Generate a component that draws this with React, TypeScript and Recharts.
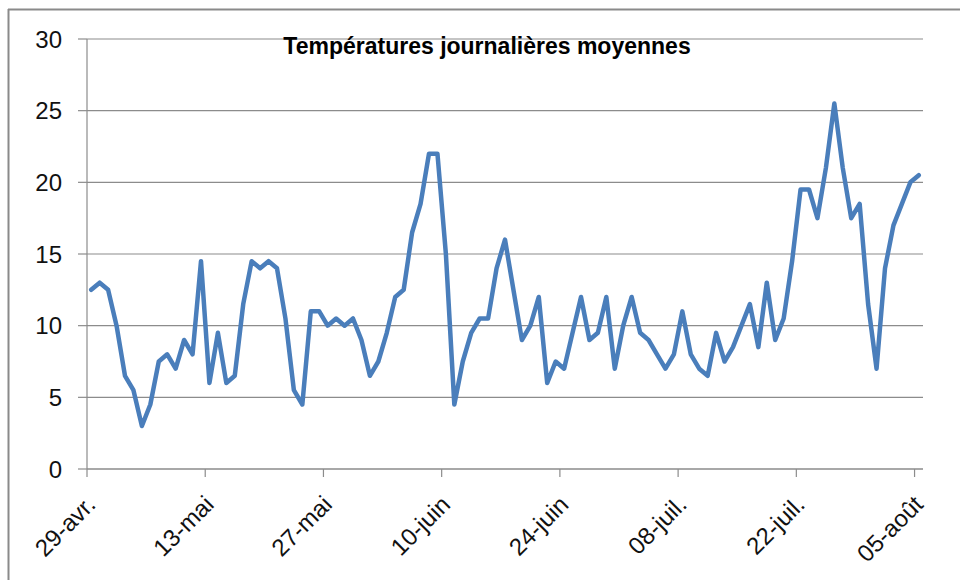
import React from "react";
import { LineChart, Line, XAxis, YAxis, CartesianGrid } from "recharts";

// Daily mean temperatures, 29 April -> 5 August (99 days)
const temperatures: number[] = [
  12.5, 13.0, 12.5, 10.0, 6.5, 5.5, 3.0, 4.5, 7.5, 8.0,
  7.0, 9.0, 8.0, 14.5, 6.0, 9.5, 6.0, 6.5, 11.5, 14.5,
  14.0, 14.5, 14.0, 10.5, 5.5, 4.5, 11.0, 11.0, 10.0, 10.5,
  10.0, 10.5, 9.0, 6.5, 7.5, 9.5, 12.0, 12.5, 16.5, 18.5,
  22.0, 22.0, 15.0, 4.5, 7.5, 9.5, 10.5, 10.5, 14.0, 16.0,
  12.5, 9.0, 10.0, 12.0, 6.0, 7.5, 7.0, 9.5, 12.0, 9.0,
  9.5, 12.0, 7.0, 10.0, 12.0, 9.5, 9.0, 8.0, 7.0, 8.0,
  11.0, 8.0, 7.0, 6.5, 9.5, 7.5, 8.5, 10.0, 11.5, 8.5,
  13.0, 9.0, 10.5, 14.5, 19.5, 19.5, 17.5, 21.0, 25.5, 21.0,
  17.5, 18.5, 11.5, 7.0, 14.0, 17.0, 18.5, 20.0, 20.5,
];

const tickDays: number[] = [0, 14, 28, 42, 56, 70, 84, 98];
const tickLabels: string[] = [
  "29-avr.", "13-mai", "27-mai", "10-juin", "24-juin", "08-juil.", "22-juil.", "05-août",
];
const yTicks: number[] = [0, 5, 10, 15, 20, 25, 30];
const title = "Températures journalières moyennes";

const data = temperatures.map((t, i) => ({ day: i + 0.5, t }));

const FONT = "'Liberation Sans', Arial, sans-serif";

const XTick = (props: any) => {
  const { x, y, payload } = props;
  const idx = tickDays.indexOf(payload.value);
  const label = idx >= 0 ? tickLabels[idx] : "";
  return (
    <text
      transform={`translate(${x + 10},${y + 29}) rotate(-45)`}
      textAnchor="end"
      fontFamily={FONT}
      fontSize={24}
      fill="#111"
    >
      {label}
    </text>
  );
};

export default function App() {
  return (
    <div
      style={{
        position: "absolute",
        left: 0,
        top: 0,
        width: 960,
        height: 580,
        overflow: "hidden",
        background: "#fff",
      }}
    >
      <LineChart
        width={960}
        height={580}
        data={data}
        margin={{ top: 39, right: 37, bottom: 11, left: 0 }}
      >
        <CartesianGrid vertical={false} stroke="#8c8c8c" strokeWidth={1.2} />
        <XAxis
          dataKey="day"
          type="number"
          domain={[0, 99]}
          ticks={tickDays}
          interval={0}
          height={100}
          tickSize={8}
          tickMargin={0}
          tick={<XTick />}
          axisLine={{ stroke: "#8c8c8c", strokeWidth: 1.2 }}
          tickLine={{ stroke: "#8c8c8c", strokeWidth: 1.2 }}
          allowDataOverflow
        />
        <YAxis
          domain={[0, 30]}
          ticks={yTicks}
          interval={0}
          width={87}
          tickSize={9}
          tickMargin={16}
          axisLine={{ stroke: "#8c8c8c", strokeWidth: 1.2 }}
          tickLine={{ stroke: "#8c8c8c", strokeWidth: 1.2 }}
          tick={{ fontFamily: FONT, fontSize: 24, fill: "#111" }}
        />
        <Line
          type="linear"
          dataKey="t"
          stroke="#4a7ebb"
          strokeWidth={4.5}
          dot={false}
          strokeLinejoin="round"
          strokeLinecap="round"
          isAnimationActive={false}
        />
      </LineChart>
      <svg
        width={960}
        height={580}
        style={{ position: "absolute", left: 0, top: 0, pointerEvents: "none" }}
      >
        <line x1={8.5} y1={9} x2={8.5} y2={580} stroke="#8a8a8a" strokeWidth={2} />
        <line x1={8} y1={9.5} x2={960} y2={9.5} stroke="#8a8a8a" strokeWidth={2} />
        <text
          x={487}
          y={54}
          textAnchor="middle"
          fontFamily={FONT}
          fontWeight="bold"
          fontSize={23}
          fill="#000"
        >
          {title}
        </text>
      </svg>
    </div>
  );
}
